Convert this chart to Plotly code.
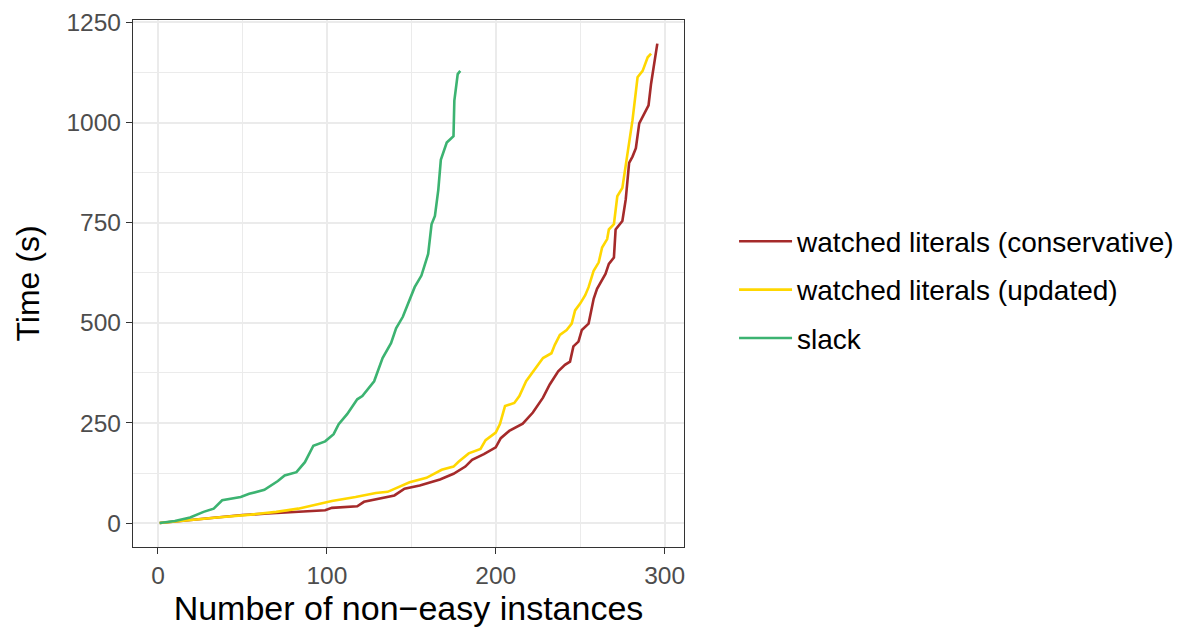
import plotly.graph_objects as go

# ---- data (cactus plot) ----
cons_x = [1, 10, 20, 35, 50, 65, 81, 99, 103, 118, 122, 140, 146, 155, 167, 175, 182, 186, 193, 200,
          203, 208, 216, 222, 228, 232, 237, 241, 244, 246, 249, 251, 255, 258, 260, 262, 265, 267,
          270, 271, 275, 277, 279, 281, 283, 285, 288, 290.5, 292, 293.7, 295.7]
cons_y = [0, 4, 8, 14, 20, 24, 28, 32, 38, 42, 53, 69, 86, 94, 109, 123, 141, 158, 172, 189,
          212, 230, 248, 276, 313, 346, 379, 395, 403, 441, 453, 482, 498, 560, 585, 601, 622, 647,
          663, 733, 754, 808, 899, 915, 936, 998, 1022, 1043, 1097, 1146, 1197]

upd_x = [1, 10, 20, 35, 55, 70, 83, 99, 103, 117, 129, 136, 149, 159, 168, 175, 178, 184, 191, 194,
         200, 202.5, 205.5, 211, 214, 218, 228, 233, 235, 238, 242, 245, 247, 250, 253, 255, 258,
         261, 263, 266, 267, 270, 272, 275, 277, 281, 284, 287, 290, 292]
upd_y = [0, 4, 8, 14, 21, 28, 36, 50, 55, 65, 75, 78, 102, 113, 133, 141, 153, 174, 185, 207,
         226, 247, 292, 300, 317, 354, 412, 424, 445, 470, 482, 498, 531, 548, 569, 589, 630,
         651, 688, 709, 733, 746, 816, 837, 890, 1006, 1113, 1129, 1163, 1172]

slack_x = [1, 10, 19, 27, 33, 38, 49, 54, 63, 71, 75, 82, 87, 92, 99, 104, 107, 112, 118, 121,
           128, 133, 138, 141, 145, 149, 152, 156, 160, 162, 164, 166, 167.5, 171, 175, 175.5,
           177.5, 179]
slack_y = [0, 5, 14, 28, 36, 57, 65, 73, 83, 105, 119, 127, 152, 193, 204, 222, 247, 272, 309, 317,
           354, 412, 449, 486, 515, 556, 589, 618, 672, 746, 767, 832, 907, 950, 966, 1055,
           1121, 1129]

series = [
    ("watched literals (conservative)", cons_x, cons_y, "#A52A2A"),
    ("watched literals (updated)", upd_x, upd_y, "#FFD700"),
    ("slack", slack_x, slack_y, "#3CB371"),
]

x_ticks = [0, 100, 200, 300]
y_ticks = [0, 250, 500, 750, 1000, 1250]

FONT = "Liberation Sans, Arial, sans-serif"

fig = go.Figure()
for i, (name, xs, ys, col) in enumerate(series):
    fig.add_trace(go.Scatter(x=xs, y=ys, mode="lines", name=name, legendgroup=str(i),
                             line=dict(color=col, width=2.6)))

axis_common = dict(
    automargin=False,
    showgrid=True, gridcolor="#EBEBEB", gridwidth=1.6,
    zeroline=False, showline=True, mirror=True, linecolor="#333333", linewidth=1.3,
    ticks="outside", ticklen=6, tickcolor="#333333", tickwidth=1.3,
    ticklabeloverflow="allow",
    tickfont=dict(family=FONT, size=24.5, color="#4D4D4D"),
)

fig.update_layout(
    width=1180, height=620,
    paper_bgcolor="white", plot_bgcolor="white",
    margin=dict(l=125, r=504, t=12, b=81),
    font=dict(family=FONT),
    xaxis=dict(range=[-14.8, 311.5], tickvals=x_ticks,
               minor=dict(dtick=50, tick0=0, showgrid=True, gridcolor="#EBEBEB", gridwidth=0.8, ticks=""),
               title=dict(text="Number of non\u2212easy instances", font=dict(family=FONT, size=34, color="black"),
                          standoff=6),
               **axis_common),
    yaxis=dict(range=[-59.75, 1256], tickvals=y_ticks,
               minor=dict(dtick=125, tick0=0, showgrid=True, gridcolor="#EBEBEB", gridwidth=0.8, ticks=""),
               title=dict(text="Time (s)", font=dict(family=FONT, size=32, color="black"), standoff=17),
               **axis_common),
    legend=dict(xref="container", yref="container", x=0.6153, y=0.5452, xanchor="left", yanchor="middle",
                font=dict(family=FONT, size=28, color="black"), traceorder="grouped",
                tracegroupgap=9, itemwidth=53, bgcolor="rgba(0,0,0,0)"),
)

fig.write_html("out.html")
